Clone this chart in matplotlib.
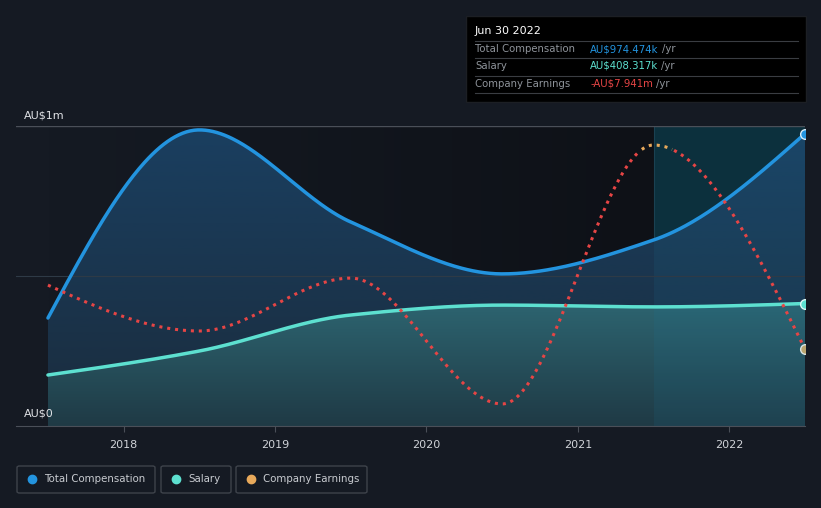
import numpy as np
import matplotlib.pyplot as plt
from matplotlib.patches import FancyBboxPatch, Rectangle
from matplotlib.lines import Line2D

# data (AU$ m), fiscal year ends Jun 30
years = [2017.5, 2018.5, 2019.5, 2020.5, 2021.5, 2022.5]
total_comp = [0.36, 0.987, 0.68, 0.507, 0.62, 0.974474]
salary = [0.17, 0.25, 0.37, 0.403, 0.397, 0.408317]
earnings = [-5.39, -7.22, -5.11, -10.13, 0.20, -7.941]
tick_years = [2018, 2019, 2020, 2021, 2022]

BG = '#151a23'
BLUE = '#2394df'
TEAL = '#5de0d0'
RED = '#e64545'
ORANGE = '#e8a95b'


def monotone(xs, ys, n=400):
    # monotone cubic (Fritsch-Carlson) like d3 curveMonotoneX
    xs = np.asarray(xs, float)
    ys = np.asarray(ys, float)
    h = np.diff(xs)
    d = np.diff(ys) / h
    m = np.zeros(len(xs))
    for i in range(1, len(xs) - 1):
        if d[i - 1] * d[i] <= 0:
            m[i] = 0
        else:
            w1 = 2 * h[i] + h[i - 1]
            w2 = h[i] + 2 * h[i - 1]
            m[i] = (w1 + w2) / (w1 / d[i - 1] + w2 / d[i])
    m[0] = (3 * d[0] - m[1]) / 2
    m[-1] = (3 * d[-1] - m[-2]) / 2
    xx = np.linspace(xs[0], xs[-1], n)
    yy = np.empty_like(xx)
    for k, x in enumerate(xx):
        i = min(np.searchsorted(xs, x, side='right') - 1, len(xs) - 2)
        t = (x - xs[i]) / h[i]
        h00 = 2 * t**3 - 3 * t**2 + 1
        h10 = t**3 - 2 * t**2 + t
        h01 = -2 * t**3 + 3 * t**2
        h11 = t**3 - t**2
        yy[k] = h00 * ys[i] + h10 * h[i] * m[i] + h01 * ys[i + 1] + h11 * h[i] * m[i + 1]
    return xx, yy


to_rgb = plt.matplotlib.colors.to_rgb

fig = plt.figure(figsize=(8.21, 5.08), dpi=100, facecolor=BG)
W, H = 821, 508
ax = fig.add_axes([16 / W, (H - 426) / H, (805 - 16) / W, 300 / H])
ax.set_facecolor(BG)
x0, x1 = 2017.289, 2022.5
ax.set_xlim(x0, x1)
ax.set_ylim(0, 1.0)

# background: horizontal gradient from page colour to darker
g = np.linspace(0, 1, 256)
c_a, c_b = np.array(to_rgb(BG)), np.array(to_rgb('#0e1117'))
bg_img = (c_a + (c_b - c_a) * g[:, None])[None, :, :]
ax.imshow(bg_img, extent=[years[0], years[4], 0, 1], aspect='auto', zorder=0)
# highlighted last period
ax.axvspan(years[4], x1, color='#0b2630', zorder=0.2, lw=0)
ax.axvline(years[4], color='#1a3a48', lw=0.8, zorder=0.5)

tx, ty = monotone(years, total_comp)
sx, sy = monotone(years, salary)


def grad_fill(xx, yy, top, bottom, z):
    poly = ax.fill_between(xx, yy, 0, color='none', zorder=z)
    grad = np.linspace(0, 1, 256).reshape(-1, 1)
    c_top = np.array(to_rgb(top))
    c_bot = np.array(to_rgb(bottom))
    img = c_bot + (c_top - c_bot) * grad[..., None]
    im = ax.imshow(img, extent=[xx[0], xx[-1], 0, max(yy)], origin='lower',
                   aspect='auto', zorder=z)
    path = poly.get_paths()[0]
    im.set_clip_path(path, transform=ax.transData)


grad_fill(tx, ty, '#1a3f60', '#1a2c3d', 1)
grad_fill(sx, sy, '#2d6470', '#1f3a45', 2)
ax.axvspan(years[4], x1, color='#1a7aa0', alpha=0.12, zorder=2.5, lw=0)
ax.set_xlim(x0, x1)
ax.set_ylim(0, 1.0)

ax.plot(tx, ty, color=BLUE, lw=2.5, zorder=4, solid_capstyle='round')
ax.plot(sx, sy, color=TEAL, lw=2.5, zorder=4, solid_capstyle='round')

# earnings on a hidden secondary scale
ax2 = ax.twinx()
ax2.set_ylim(-11.01, 0.958)
ax2.set_xlim(x0, x1)
ex, ey = monotone(years, earnings)
neg = np.where(ey <= 0, ey, np.nan)
pos = np.where(ey >= 0, ey, np.nan)
ax2.plot(ex, neg, color=RED, lw=2.2, ls=(0, (1, 1.6)), zorder=5)
ax2.plot(ex, pos, color=ORANGE, lw=2.2, ls=(0, (1, 1.6)), zorder=5)
ax2.plot(years[-1], earnings[-1], 'o', ms=7, mfc='#b9a46e', mec='#d8e4e4',
         mew=1, zorder=6, clip_on=True)
ax2.axis('off')

ax.plot(years[-1], total_comp[-1], 'o', ms=7, mfc=BLUE, mec='#d8ecf8', mew=1, zorder=6)
ax.plot(years[-1], salary[-1], 'o', ms=7, mfc=TEAL, mec='#e0f8f4', mew=1, zorder=6)

# grid and axis
ax.axhline(1.0, color='#4a4f58', lw=1, zorder=3)
ax.axhline(0.5, color='#2e3a46', lw=0.8, zorder=3)
for s in ['top', 'right', 'left']:
    ax.spines[s].set_visible(False)
ax.spines['bottom'].set_color('#4a4f58')
ax.spines['bottom'].set_zorder(7)
ax.set_yticks([])
ax.set_xticks(tick_years)
ax.set_xticklabels([str(y) for y in tick_years])
ax.tick_params(axis='x', colors='#4a4f58', length=4, labelcolor='#d0d3d8',
               labelsize=8, pad=6)

fig.text(24 / W, 1 - 115 / H, 'AU$1m', color='#e0e2e6', fontsize=8, va='center')
fig.text(24 / W, 1 - 414 / H, 'AU$0', color='#e0e2e6', fontsize=8, va='center')

# tooltip
fig.patches.append(Rectangle((466 / W, 1 - 102 / H), 340 / W, 86 / H,
                             transform=fig.transFigure, facecolor='#000000',
                             edgecolor='#1c1f24', lw=1, zorder=10))
fig.text(475 / W, 1 - 31 / H, 'Jun 30 2022', color='white', fontsize=8, va='center', zorder=11)
for yy in [41, 58, 76, 93]:
    fig.add_artist(Line2D([475 / W, 798 / W], [1 - yy / H, 1 - yy / H], color='#3a3d42',
                          lw=0.8, zorder=11))
rows = [('Total Compensation', 'AU$974.474k', BLUE, 49),
        ('Salary', 'AU$408.317k', TEAL, 66),
        ('Company Earnings', '-AU$7.941m', RED, 84)]
for label, val, col, yy in rows:
    fig.text(475 / W, 1 - yy / H, label, color='#8f949b', fontsize=7.3, va='center', zorder=11)
    t = fig.text(590 / W, 1 - yy / H, val, color=col, fontsize=7.3, va='center', zorder=11)
    fig.canvas.draw()
    bb = t.get_window_extent()
    fig.text((bb.x1 + 3) / W, 1 - yy / H, '/yr', color='#8f949b', fontsize=7.3,
             va='center', zorder=11)

# legend
legend = [('Total Compensation', BLUE, 17, 155),
          ('Salary', TEAL, 161, 231),
          ('Company Earnings', ORANGE, 236, 367)]
for label, col, xa, xb in legend:
    fig.patches.append(FancyBboxPatch((xa / W, 1 - 493 / H), (xb - xa) / W, 27 / H,
                                      boxstyle='round,pad=0,rounding_size=0.003',
                                      transform=fig.transFigure, facecolor='none',
                                      edgecolor='#3e434b', lw=1))
    fig.add_artist(Line2D([(xa + 15) / W], [1 - 479 / H], marker='o', ms=6,
                          color=col, lw=0))
    fig.text((xa + 27) / W, 1 - 479 / H, label, color='#c8cbd0', fontsize=7.4, va='center')

fig.savefig('out.png', dpi=100, facecolor=BG)
